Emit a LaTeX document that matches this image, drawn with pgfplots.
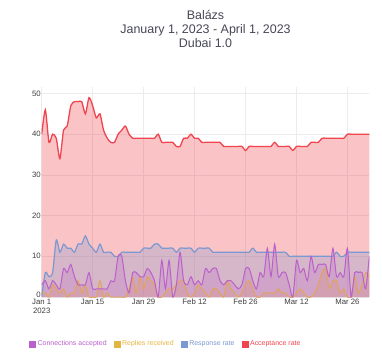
\documentclass[border=0pt]{standalone}
\usepackage{pgfplots}
\pgfplotsset{compat=1.18}
\usepackage{pgfplotstable}
\usepackage{fontspec}
\setmainfont{Liberation Sans}
\definecolor{cpurple}{RGB}{186,96,202}
\definecolor{cgold}{RGB}{228,180,64}
\definecolor{corange}{RGB}{226,164,92}
\definecolor{cblue}{RGB}{122,152,210}
\definecolor{cred}{RGB}{240,68,78}
\definecolor{ctitle}{RGB}{70,70,86}
\definecolor{ctick}{RGB}{60,60,60}
\definecolor{cgrid}{RGB}{236,236,236}

\pgfplotstableread{
d acc resp conn rep
0 40 0 3 1
1 46 6 4 1
2 38 5 2 0
3 40 6 4 3
4 39 14 3 2
5 34 11 2 1
6 41 13 7 2
7 42 12 6 0
8 47 12 8 1
9 48 11 5 1
10 48 13 3 4
11 48 13 3 1
12 45 15 3 3
13 49 13 6 0
14 47 12 2 0
15 44 11 2 0
16 45 13 2 4
17 41 11 2 0
18 39 11 2 1
19 38 11 4 0
20 38 10 4 0
21 40 10 10 0
22 41 11 10 0
23 42 11 4 0
24 40 11 1 2
25 39 11 6 5
26 39 11 6 1
27 39 11 5 5
28 39 12 5 2
29 39 12 7 5
30 39 12 6 4
31 39 13 4 3
32 40 13 0 0
33 38 12 9 0
34 38 12 2 1
35 38 12 9 2
36 38 12 0 2
37 37 11 3 3
38 37 12 11 4
39 39 12 4 4
40 39 12 3 1
41 40 12 5 0
42 39 11 3 1
43 39 12 4 3
44 38 12 3 2
45 38 12 7 1
46 38 12 6 0
47 38 11 7 2
48 38 11 7 2
49 38 11 4 1
50 37 11 3 0
51 37 11 4 4
52 37 11 4 2
53 37 11 3 1
54 37 11 2 0
55 37 11 3 1
56 36 11 7 3
57 37 11 7 4
58 37 12 4 2
59 37 11 2 0
60 37 11 6 0
61 37 11 5 1
62 37 11 12 1
63 37 11 5 1
64 38 11 13 1
65 37 11 5 2
66 37 11 6 1
67 37 11 6 1
68 37 10 3 0
69 36 10 0 0
70 37 10 9 1
71 37 10 6 2
72 37 10 7 1
73 37 10 4 0
74 38 10 10 0
75 38 10 6 1
76 38 10 8 3
77 39 10 8 6
78 39 10 8 7
79 39 10 5 2
80 39 10 12 4
81 39 11 5 4
82 39 10 6 1
83 39 10 5 2
84 40 11 12 0
85 40 11 0 0
86 40 11 6 5
87 40 11 6 1
88 40 11 6 3
89 40 11 2 6
90 40 11 10 5
}\datatable

\begin{document}
\begin{tikzpicture}
\useasboundingbox (-41.7bp,-60bp) rectangle (340.3bp,297bp);
\begin{axis}[
  at={(0,0)}, anchor=south west,
  scale only axis, width=327.6bp, height=209.6bp,
  xmin=0, xmax=90, ymin=0, ymax=51.5,
  axis line style={draw=none},
  major tick length=0pt,
  xtick={0,14,28,42,56,70,84},
  xticklabels={{Jan 1\\2023},Jan 15,Jan 29,Feb 12,Feb 26,Mar 12,Mar 26},
  ytick={0,10,20,30,40,50},
  yticklabels={\raisebox{-0.5bp}[0pt][0pt]{0},10,20,30,40,50},
  grid=major,
  major grid style={cgrid, line width=0.6bp},
  /pgf/number format/assume math mode=true,
  xticklabel style={font=\fontsize{7.8}{9.5}\selectfont, text=ctick, align=center, inner sep=1.8bp},
  yticklabel style={font=\fontsize{7.8}{9.5}\selectfont, text=ctick, inner sep=0.8bp},
  legend columns=4,
  legend style={draw=none, fill=none, at={(-0.0388,-0.225)}, anchor=west,
    font=\fontsize{7}{8}\selectfont, inner sep=0pt,
    nodes={inner sep=1.5bp},
    /tikz/every even column/.append style={column sep=5.5bp}},
  legend image code/.code={\fill[#1] (0bp,-3.5bp) rectangle (7bp,3.5bp);},
  every axis plot/.append style={smooth, tension=0.4},
]
\addlegendimage{fill=cpurple, draw=none}
\addlegendentry{\textcolor{cpurple}{Connections accepted}}
\addlegendimage{fill=cgold, draw=none}
\addlegendentry{\textcolor{cgold}{Replies received}}
\addlegendimage{fill=cblue, draw=none}
\addlegendentry{\textcolor{cblue}{Response rate}}
\addlegendimage{fill=cred, draw=none}
\addlegendentry{\textcolor{cred}{Acceptance rate}}

\addplot[forget plot, draw=none, fill=cred, fill opacity=0.32] table[x=d, y=acc] {\datatable} \closedcycle;
\addplot[forget plot, draw=none, fill=cblue, fill opacity=0.28] table[x=d, y=resp] {\datatable} \closedcycle;
\addplot[forget plot, draw=none, fill=corange, fill opacity=0.25] table[x=d, y=rep] {\datatable} \closedcycle;
\addplot[forget plot, draw=none, fill=cpurple, fill opacity=0.22] table[x=d, y=conn] {\datatable} \closedcycle;

\addplot[forget plot, cred, line width=1.3bp] table[x=d, y=acc] {\datatable};
\addplot[forget plot, cblue, line width=1.2bp] table[x=d, y=resp] {\datatable};
\addplot[forget plot, corange, line width=1bp] table[x=d, y=rep] {\datatable};
\addplot[forget plot, cpurple, line width=1bp] table[x=d, y=conn] {\datatable};
\end{axis}
\node[align=center, text=ctitle, font=\fontsize{12.5}{14}\selectfont] at (163.8bp,268bp)
  {Balázs\\January 1, 2023 - April 1, 2023\\Dubai 1.0};
\end{tikzpicture}
\end{document}
